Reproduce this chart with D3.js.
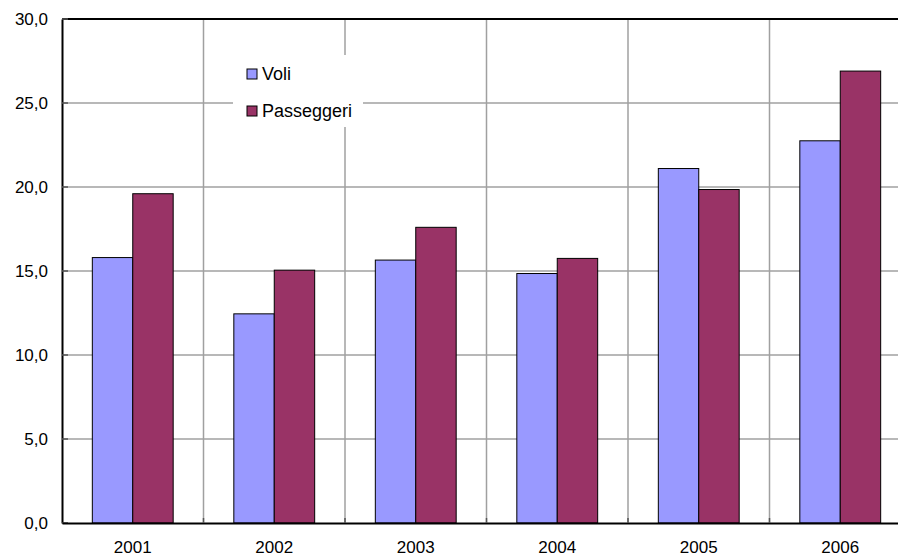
<!DOCTYPE html>
<html>
<head>
<meta charset="utf-8">
<script src="https://cdn.jsdelivr.net/npm/d3@7"></script>
<style>
  html, body { margin: 0; padding: 0; background: #fff; }
  svg { display: block; }
  text { font-family: "Liberation Sans", Arial, sans-serif; fill: #000; }
</style>
</head>
<body>
<svg id="chart" width="898" height="557"></svg>
<script>
// Annual growth data (percent) for flights and passengers
const years = ["2001", "2002", "2003", "2004", "2005", "2006"];
const seriesNames = ["Voli", "Passeggeri"];
const voli = [15.8, 12.45, 15.65, 14.85, 21.1, 22.75];
const passeggeri = [19.6, 15.05, 17.6, 15.75, 19.85, 26.9];
const yTicks = [0, 5, 10, 15, 20, 25, 30];
const colors = ["#9999FF", "#993366"];

const svg = d3.select("#chart");
const plotLeft = 62, plotRight = 911, plotTop = 19, plotBottom = 523;

const x0 = d3.scaleBand().domain(years).range([plotLeft, plotRight]).padding(0);
const x1 = d3.scaleBand().domain(seriesNames).range([0, x0.bandwidth()])
  .paddingInner(0).paddingOuter(0.75);
const y = d3.scaleLinear().domain([0, 30]).range([plotBottom, plotTop]);
const color = d3.scaleOrdinal().domain(seriesNames).range(colors);

const fmt = v => d3.format(".1f")(v).replace(".", ",");

// Horizontal gridlines
svg.append("g")
  .selectAll("line")
  .data(yTicks.filter(t => t > 0 && t < 30))
  .join("line")
  .attr("x1", plotLeft).attr("x2", plotRight)
  .attr("y1", d => y(d)).attr("y2", d => y(d))
  .attr("stroke", "#a0a0a0").attr("stroke-width", 1.5);

// Vertical gridlines on category boundaries
svg.append("g")
  .selectAll("line")
  .data(years.slice(1))
  .join("line")
  .attr("x1", d => x0(d)).attr("x2", d => x0(d))
  .attr("y1", plotTop).attr("y2", plotBottom)
  .attr("stroke", "#a0a0a0").attr("stroke-width", 1.5);

// Bars
const rows = years.map((yr, i) => ({ year: yr, values: [voli[i], passeggeri[i]] }));
svg.append("g")
  .selectAll("g")
  .data(rows)
  .join("g")
  .attr("transform", d => `translate(${x0(d.year)},0)`)
  .selectAll("rect")
  .data(d => seriesNames.map((s, j) => ({ key: s, value: d.values[j] })))
  .join("rect")
  .attr("x", d => x1(d.key))
  .attr("y", d => y(d.value))
  .attr("width", x1.bandwidth())
  .attr("height", d => y(0) - y(d.value))
  .attr("fill", d => color(d.key))
  .attr("stroke", "#000").attr("stroke-width", 1);

// Frame: top border, left axis, bottom axis
svg.append("line").attr("x1", plotLeft).attr("x2", plotRight)
  .attr("y1", plotTop).attr("y2", plotTop)
  .attr("stroke", "#000").attr("stroke-width", 2);

const yAxis = svg.append("g")
  .attr("transform", `translate(${plotLeft},0)`)
  .call(d3.axisLeft(y).tickValues(yTicks).tickFormat(fmt).tickSize(0).tickPadding(14));
yAxis.select(".domain").attr("stroke", "#000").attr("stroke-width", 2);
yAxis.selectAll("text").style("font-size", "17px")
  .style("font-family", "'Liberation Sans', Arial, sans-serif");

// Small inward tick marks on the value axis
svg.append("g").selectAll("line").data(yTicks).join("line")
  .attr("x1", plotLeft).attr("x2", plotLeft + 6)
  .attr("y1", d => y(d)).attr("y2", d => y(d))
  .attr("stroke", "#555").attr("stroke-width", 1.5);

const xAxis = svg.append("g")
  .attr("transform", `translate(0,${plotBottom})`)
  .call(d3.axisBottom(x0).tickSize(0).tickPadding(18));
xAxis.select(".domain").attr("stroke", "#000").attr("stroke-width", 2);
xAxis.selectAll("text").style("font-size", "17px")
  .style("font-family", "'Liberation Sans', Arial, sans-serif");

// Small inward tick marks on category boundaries
svg.append("g").selectAll("line").data(years.slice(1)).join("line")
  .attr("x1", d => x0(d)).attr("x2", d => x0(d))
  .attr("y1", plotBottom).attr("y2", plotBottom - 5)
  .attr("stroke", "#555").attr("stroke-width", 1.5);

// Legend
const legend = svg.append("g").attr("transform", "translate(233,55)");
legend.append("rect").attr("width", 130).attr("height", 72).attr("fill", "#fff");
const items = legend.selectAll("g.item").data(seriesNames).join("g")
  .attr("class", "item")
  .attr("transform", (d, i) => `translate(14,${14 + i * 37})`);
items.append("rect")
  .attr("width", 10).attr("height", 10)
  .attr("fill", d => color(d)).attr("stroke", "#000").attr("stroke-width", 1);
items.append("text")
  .attr("x", 15).attr("y", 11)
  .style("font-size", "18px")
  .text(d => d);
</script>
</body>
</html>
